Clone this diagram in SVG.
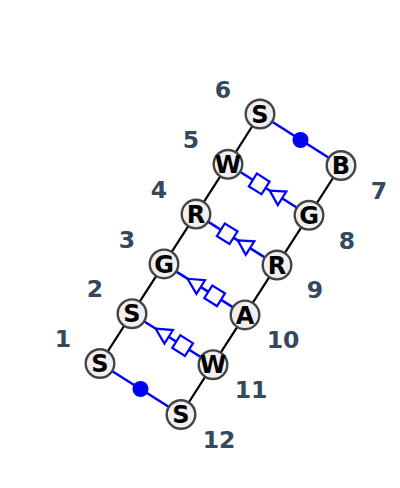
<svg xmlns="http://www.w3.org/2000/svg" width="400" height="488" viewBox="0 0 400 488">
<style>
.bb{stroke:#000;stroke-width:2.2;fill:none}
.bl{stroke:#0000ff;stroke-width:2.5;fill:none}
.sh{stroke:#0000ff;stroke-width:2.2;fill:#fff}
.dot{fill:#0000ff}
.node circle{fill:#f0f0f0;stroke:#444;stroke-width:2.4}
.node text{font-family:"DejaVu Sans",sans-serif;font-weight:bold;font-size:24px;fill:#000;text-anchor:middle}
.lab{font-family:"DejaVu Sans",sans-serif;font-weight:bold;font-size:23.5px;fill:#34495e;text-anchor:middle}
</style>
<rect width="400" height="488" fill="#fff"/>
<g id="connectors">
<polyline class="bb" points="100,363.5 132,313.7 164,263.9 196,214.1 228,164.3 260,114"/>
<polyline class="bb" points="181,414.5 213,364.7 245,314.9 277,265.1 309,215.3 341,165.5"/>
<line class="bl" x1="100" y1="363.5" x2="181" y2="414.5"/>
<circle class="dot" cx="140.5" cy="389" r="8"/>
<line class="bl" x1="260" y1="114" x2="341" y2="165.5"/>
<circle class="dot" cx="300.5" cy="140" r="8"/>
<line class="bl" x1="132" y1="313.7" x2="213" y2="364.7"/>
<g transform="translate(172.5,339.2) rotate(32.2)"><polygon class="sh" points="-20,0 -4.5,-8 -4.5,8"/><rect class="sh" x="4.5" y="-7.5" width="15" height="15"/></g>
<line class="bl" x1="164" y1="263.9" x2="245" y2="314.9"/>
<g transform="translate(204.5,289.4) rotate(32.2)"><polygon class="sh" points="-20,0 -4.5,-8 -4.5,8"/><rect class="sh" x="4.5" y="-7.5" width="15" height="15"/></g>
<line class="bl" x1="196" y1="214.1" x2="277" y2="265.1"/>
<g transform="translate(236.5,239.6) rotate(32.2)"><rect class="sh" x="-18.5" y="-7.5" width="15" height="15"/><polygon class="sh" points="1.5,0 16,-8 16,8"/></g>
<line class="bl" x1="228" y1="164.3" x2="309" y2="215.3"/>
<g transform="translate(268.5,189.8) rotate(32.2)"><rect class="sh" x="-18.5" y="-7.5" width="15" height="15"/><polygon class="sh" points="1.5,0 16,-8 16,8"/></g>
</g>
<g id="n1" class="node"><circle cx="100" cy="363.5" r="14.3"/><text x="100" y="372.2">S</text></g>
<g id="n2" class="node"><circle cx="132" cy="313.7" r="14.3"/><text x="132" y="322.4">S</text></g>
<g id="n3" class="node"><circle cx="164" cy="263.9" r="14.3"/><text x="164" y="272.6">G</text></g>
<g id="n4" class="node"><circle cx="196" cy="214.1" r="14.3"/><text x="196" y="222.8">R</text></g>
<g id="n5" class="node"><circle cx="228" cy="164.3" r="14.3"/><text x="228" y="173">W</text></g>
<g id="n6" class="node"><circle cx="260" cy="114" r="14.3"/><text x="260" y="122.7">S</text></g>
<g id="n7" class="node"><circle cx="341" cy="165.5" r="14.3"/><text x="341" y="174.2">B</text></g>
<g id="n8" class="node"><circle cx="309" cy="215.3" r="14.3"/><text x="309" y="224">G</text></g>
<g id="n9" class="node"><circle cx="277" cy="265.1" r="14.3"/><text x="277" y="273.8">R</text></g>
<g id="n10" class="node"><circle cx="245" cy="314.9" r="14.3"/><text x="245" y="323.6">A</text></g>
<g id="n11" class="node"><circle cx="213" cy="364.7" r="14.3"/><text x="213" y="373.4">W</text></g>
<g id="n12" class="node"><circle cx="181" cy="414.5" r="14.3"/><text x="181" y="423.2">S</text></g>
<g id="labels">
<text class="lab" x="63" y="347.2">1</text>
<text class="lab" x="95" y="297.4">2</text>
<text class="lab" x="127" y="247.6">3</text>
<text class="lab" x="159" y="197.8">4</text>
<text class="lab" x="191" y="148">5</text>
<text class="lab" x="223" y="98.2">6</text>
<text class="lab" x="379" y="198.7">7</text>
<text class="lab" x="347" y="248.5">8</text>
<text class="lab" x="315" y="298.3">9</text>
<text class="lab" x="283" y="348.1">10</text>
<text class="lab" x="251" y="397.9">11</text>
<text class="lab" x="219" y="447.7">12</text>
</g>
</svg>
